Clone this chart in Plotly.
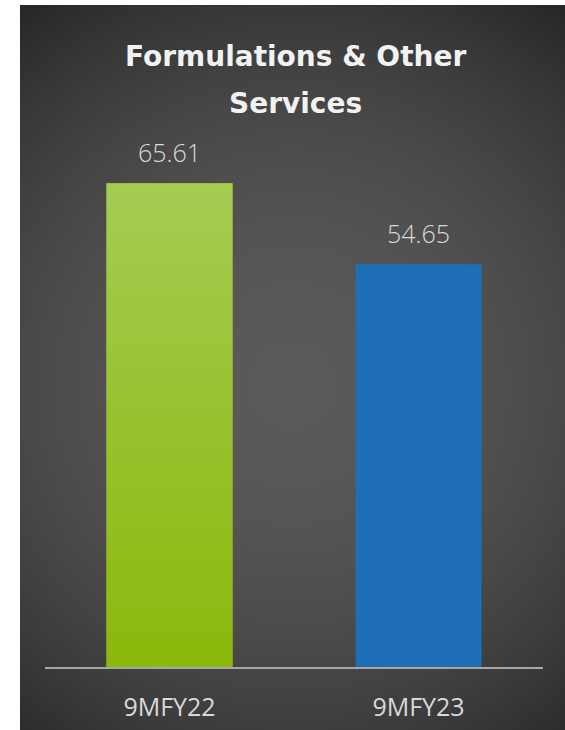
import base64
import struct
import zlib

import numpy as np
import plotly.graph_objects as go

# Chart data
categories = ["9MFY22", "9MFY23"]
values = [65.61, 54.65]
bar_colors = ["#98c22c", "#1f6fb8"]
title_lines = ["Formulations & Other", "Services"]

# Figure geometry (pixels)
W, H = 565, 730
ML, MR, MT, MB = 45, 22, 151, 63
PW, PH = W - ML - MR, H - MT - MB
PANEL_X0, PANEL_Y0 = 20, 5
Y_MAX = 70
BAR_WIDTH = 0.506


def png_uri(arr):
    """Encode an uint8 HxWxC array (C = 3 or 4) as a PNG data URI."""
    h, w, c = arr.shape
    raw = b"".join(b"\x00" + arr[row].tobytes() for row in range(h))

    def chunk(tag, data):
        return (struct.pack(">I", len(data)) + tag + data
                + struct.pack(">I", zlib.crc32(tag + data) & 0xFFFFFFFF))

    ihdr = struct.pack(">IIBBBBB", w, h, 8, 6 if c == 4 else 2, 0, 0, 0)
    png = (b"\x89PNG\r\n\x1a\n" + chunk(b"IHDR", ihdr)
           + chunk(b"IDAT", zlib.compress(raw, 9)) + chunk(b"IEND", b""))
    return "data:image/png;base64," + base64.b64encode(png).decode()


# Radial dark-grey backdrop
pw, ph = W - PANEL_X0, H - PANEL_Y0
yy, xx = np.mgrid[0:ph, 0:pw]
cx, cy = 292 - PANEL_X0, 385 - PANEL_Y0
r = np.hypot(xx - cx, yy - cy) / 460.0
level = np.clip(89 - 49 * r ** 2, 34, 90).round().astype(np.uint8)
backdrop = np.repeat(level[:, :, None], 3, axis=2)

# Vertical gradient for the green bar
n = 128
t = np.linspace(0, 1, n)[:, None]
top = np.array([164, 204, 82])
bottom = np.array([139, 184, 12])
grad = (top + (bottom - top) * t).round().astype(np.uint8)[:, None, :]

fig = go.Figure(
    go.Bar(
        x=categories,
        y=values,
        marker=dict(color=bar_colors, line=dict(width=0)),
        hoverinfo="skip",
    )
)

images = [
    dict(
        source=png_uri(backdrop),
        xref="paper", yref="paper",
        x=(PANEL_X0 - ML) / PW, y=(H - MB - PANEL_Y0) / PH,
        sizex=pw / PW, sizey=ph / PH,
        xanchor="left", yanchor="top",
        sizing="stretch", layer="below",
    ),
    dict(
        source=png_uri(grad),
        xref="x", yref="y",
        x=0, y=values[0],
        sizex=BAR_WIDTH, sizey=values[0],
        xanchor="center", yanchor="top",
        sizing="stretch", layer="above",
    ),
]

annotations = []
# Value labels above bars
for cat, val in zip(categories, values):
    annotations.append(dict(
        x=cat, y=val, xref="x", yref="y",
        text=f"{val:.2f}", showarrow=False,
        yanchor="bottom", yshift=12,
        font=dict(family="Segoe UI Light, Open Sans", size=25,
                  color="#d9d9d9", weight=300),
    ))
# Two-line chart heading
for line, py in zip(title_lines, [57, 103]):
    annotations.append(dict(
        x=(295 - ML) / PW, y=(H - MB - py) / PH,
        xref="paper", yref="paper",
        text=line, showarrow=False,
        xanchor="center", yanchor="middle",
        font=dict(family="Segoe UI, DejaVu Sans", size=28,
                  color="#f2f2f2", weight="bold"),
    ))

fig.update_layout(
    width=W, height=H,
    margin=dict(l=ML, r=MR, t=MT, b=MB, pad=0, autoexpand=False),
    paper_bgcolor="white",
    plot_bgcolor="rgba(0,0,0,0)",
    bargap=1 - BAR_WIDTH,
    showlegend=False,
    images=images,
    annotations=annotations,
    xaxis=dict(
        automargin=False,
        showline=True, linecolor="#a6a6a6", linewidth=2,
        showgrid=False, zeroline=False,
        ticks="outside", ticklen=17, tickcolor="rgba(0,0,0,0)",
        tickfont=dict(family="Segoe UI, Open Sans", size=25, color="#d9d9d9"),
    ),
    yaxis=dict(
        automargin=False,
        range=[0, Y_MAX], visible=False, showgrid=False, zeroline=False,
    ),
)

fig.write_html("out.html")
